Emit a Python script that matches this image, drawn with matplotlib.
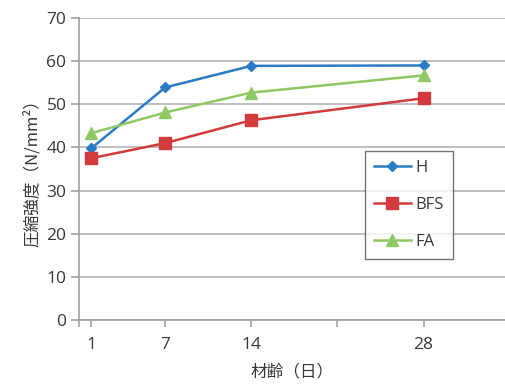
import matplotlib
matplotlib.use("Agg")
import matplotlib.pyplot as plt
from matplotlib.ticker import FixedLocator, MultipleLocator

plt.rcParams['font.family'] = ['Noto Sans CJK JP', 'DejaVu Sans']

days = [1, 7, 14, 28]
h_vals = [39.8, 53.9, 58.9, 59.0]
bfs_vals = [37.5, 41.0, 46.3, 51.4]
fa_vals = [43.3, 48.1, 52.7, 56.7]
series_names = ["H", "BFS", "FA"]

fig = plt.figure(figsize=(5.06, 3.85), dpi=100)
ax = fig.add_axes([79/506, 1 - 320/385, (506 - 79)/506, (320 - 18)/385])

text_col = "#383838"
grid_col = "#b4b4b4"
num_font = ['Open Sans', 'DejaVu Sans']

ax.plot(days, h_vals, color="#2a7bc4", lw=1.8, marker="D", ms=5.5, label=series_names[0])
ax.plot(days, bfs_vals, color="#d23a3c", lw=1.8, marker="s", ms=8, label=series_names[1])
ax.plot(days, fa_vals, color="#8ec965", lw=1.8, marker="^", ms=8, label=series_names[2])

ax.set_xlim(0, 34.7)
ax.set_ylim(0, 70)
ax.yaxis.set_major_locator(MultipleLocator(10))
ax.xaxis.set_major_locator(FixedLocator(days))
ax.xaxis.set_minor_locator(FixedLocator([0, 21]))
ax.grid(axis="y", color=grid_col, lw=1.2)
ax.set_axisbelow(True)

for s in ["top", "right"]:
    ax.spines[s].set_visible(False)
for s in ["left", "bottom"]:
    ax.spines[s].set_color("#a0a0a0")
    ax.spines[s].set_linewidth(1.2)

ax.tick_params(axis="y", colors="#a0a0a0", length=6, width=1.2, labelcolor=text_col, pad=3)
ax.tick_params(axis="x", which="both", colors="#a0a0a0", length=5, width=1.2, labelcolor=text_col, pad=7)
for lab in ax.get_xticklabels() + ax.get_yticklabels():
    lab.set_fontfamily(num_font)
    lab.set_fontsize(12.5)

ax.set_ylabel("圧縮強度（N/mm²）", fontsize=12, color=text_col, labelpad=4)
ax.set_xlabel("材齢（日）", fontsize=12, color=text_col, labelpad=8)

leg = ax.legend(loc="upper left", frameon=True, fancybox=False,
                edgecolor="#505050", prop={'family': num_font, 'size': 12},
                labelspacing=1.25, handlelength=2.2, handletextpad=0.3,
                borderpad=0.55, borderaxespad=0)
leg.get_frame().set_linewidth(1.0)
for t in leg.get_texts():
    t.set_color(text_col)

x0 = (365 - 79) / (506 - 79)
leg.set_bbox_to_anchor((x0, 1 - (151 - 18) / 302), transform=ax.transAxes)

fig.savefig("out.png", dpi=100)
